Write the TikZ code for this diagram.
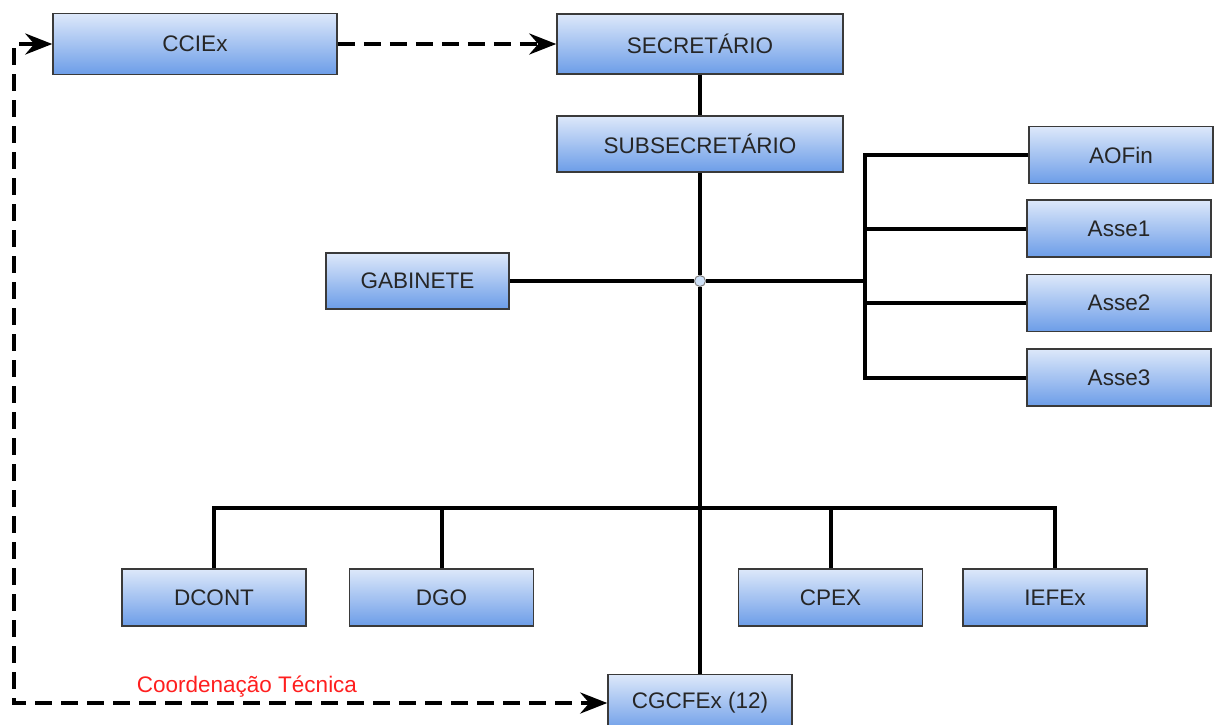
\documentclass[tikz,border=0pt]{standalone}
\usepackage{fontspec}
\setmainfont{Liberation Sans}
\usetikzlibrary{arrows.meta}
\definecolor{boxtop}{HTML}{DDE8FA}
\definecolor{boxbot}{HTML}{6C9DE8}
\definecolor{boxline}{HTML}{3A3A3A}
\definecolor{ink}{HTML}{262626}
\definecolor{labred}{HTML}{FF1F1F}
\definecolor{dotfill}{HTML}{CFE1F7}
\tikzset{
  unit/.style={draw=boxline, line width=1.5pt, top color=boxtop, bottom color=boxbot,
    minimum width=184pt, minimum height=57pt, inner sep=0pt, text=ink,
    font=\fontsize{22.5}{27}\selectfont},
  wide/.style={unit, minimum width=286pt},
  link/.style={draw=black, line width=4pt, line join=miter},
  dashlink/.style={draw=black, line width=4pt, dash pattern=on 17pt off 9pt},
  jdot/.style={circle, draw=gray, fill=dotfill, line width=1pt, inner sep=0pt, minimum size=11pt},
  note/.style={text=labred, font=\fontsize{22.5}{27}\selectfont}
}
\tikzset{>={Stealth[length=27pt,width=21pt,inset=9pt]}}

\begin{document}
\begin{tikzpicture}[x=1pt,y=-1pt]
  \clip (0,0) rectangle (1218,724);
  % top
  \node[wide, minimum width=284pt, minimum height=61pt] (ccie) at (195,44) {CCIEx};
  \node[wide, minimum height=60pt] (sec) at (700,44) {SECRETÁRIO};
  \node[wide, minimum height=56pt] (sub) at (700,144) {SUBSECRETÁRIO};
  \node[unit, minimum width=183pt, minimum height=56pt] (gab) at (417.5,281) {GABINETE};
  % right side
  \node[unit] (aof) at (1121,155) {AOFin};
  \node[unit] (as1) at (1119,228.5) {Asse1};
  \node[unit] (as2) at (1119,303) {Asse2};
  \node[unit] (as3) at (1119,377.5) {Asse3};
  % bottom
  \node[unit] (dcont) at (214,597.5) {DCONT};
  \node[unit] (dgo) at (441.5,597.5) {DGO};
  \node[unit] (cpex) at (830.5,597.5) {CPEX};
  \node[unit] (iefex) at (1055,597.5) {IEFEx};
  \node[unit] (cgc) at (700,703) {CGCFEx (12)};
  \node[jdot] (j) at (700,281) {};
  \coordinate (rb) at (865,281);
  \coordinate (bus) at (700,508);
  \coordinate (lc) at (14,44);

  \draw[link] (sec) -- (sub);
  \draw[link] (sub) -- (j);
  \draw[link] (j) -- (cgc);
  \draw[link] (gab) -- (j);
  \draw[link] (j) -- (rb);
  \draw[link] (aof) -- (aof -| rb) -- (as3 -| rb) -- (as3);
  \foreach \n in {as1,as2} \draw[link] (\n) -- (\n -| rb);
  \draw[link] (dcont) -- (dcont |- bus) -- (iefex |- bus) -- (iefex);
  \foreach \n in {dgo,cpex} \draw[link] (\n) -- (\n |- bus);

  \draw[dashlink,->] (ccie) -- (sec);
  \draw[dashlink,<->] (ccie.west) -- (lc) -- (lc |- cgc.west) -- (cgc.west);
  \node[note] (coord) at (247,687) {Coordenação Técnica};
\end{tikzpicture}
\end{document}
